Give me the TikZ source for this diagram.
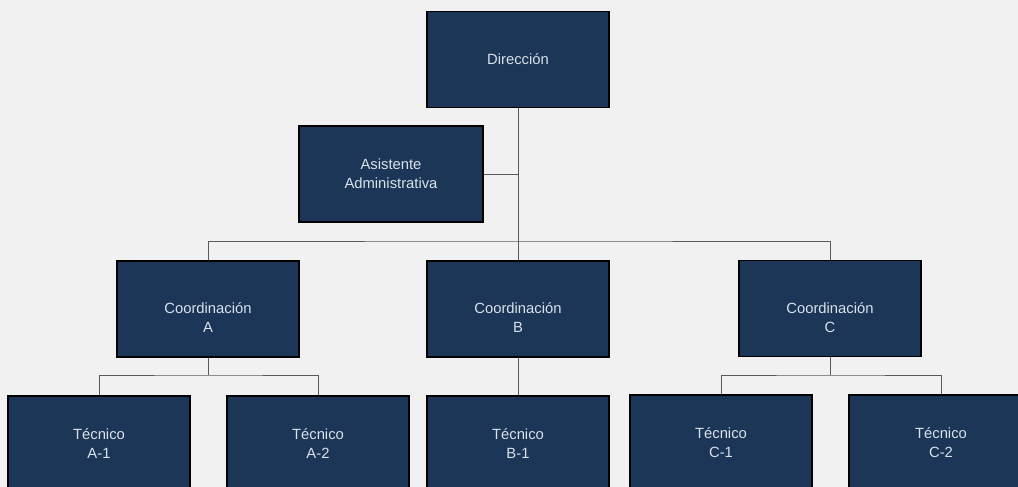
\documentclass[tikz,border=0pt]{standalone}
\usepackage{fontspec}
\setmainfont{Liberation Sans}
\usepackage{tikz}
\usetikzlibrary{positioning}
\definecolor{cajaazul}{HTML}{1C3657}
\definecolor{fondo}{HTML}{F1F1F1}
\definecolor{letra}{HTML}{D9E1EA}
\tikzset{
	rotulo/.style = {text=letra, align=center,
		font=\fontsize{14.8}{19}\selectfont},
	puesto/.style = {shape=rectangle, draw=black, line width=1.3pt,
		fill=cajaazul, rotulo,
		minimum width=182pt, minimum height=96pt},
	coord/.style  = {puesto, label={[rotulo, yshift=-9pt]center:{#1}}},
	enlace/.style = {draw=black!65, line width=1pt}
}
\begin{document}
\begin{tikzpicture}
	[
	x = 1pt,
	y = -1pt
	]
	\fill [fondo] (0,0) rectangle (1018,487);
	\clip (0,0) rectangle (1018,487);
	% niveles
	\node [puesto] (dir)    at (518,59.5) {Dirección};
	\node [puesto, minimum width=184pt] (asis) at (391,174) {Asistente\\Administrativa};
	\node [coord={Coordinación\\A}] (coordA) at (208,309) {};
	\node [coord={Coordinación\\B}] (coordB) at (518,309) {};
	\node [coord={Coordinación\\C}] (coordC) at (830,308.5) {};
	\node [puesto] (tecA1)  at (99,444)  {Técnico\\A-1};
	\node [puesto] (tecA2)  at (318,444) {Técnico\\A-2};
	\node [puesto] (tecB1)  at (518,444) {Técnico\\B-1};
	\node [puesto] (tecC1)  at (721,443) {Técnico\\C-1};
	\node [puesto, minimum width=184pt] (tecC2) at (941,443) {Técnico\\C-2};
	% lineas
	\coordinate (bus)  at (518,241);
	\coordinate (busA) at (208,375);
	\coordinate (busC) at (830,375);
	\draw [enlace] (dir.south) -- (bus);
	\draw [enlace] (asis.east) -- (asis.east -| dir.south);
	\draw [enlace] (coordA.north) |- (bus) -| (coordC.north);
	\draw [enlace] (bus) -- (coordB.north);
	\draw [enlace] (coordA.south) -- (busA);
	\draw [enlace] (tecA1.north) |- (busA) -| (tecA2.north);
	\draw [enlace] (coordB.south) -- (tecB1.north);
	\draw [enlace] (coordC.south) -- (busC);
	\draw [enlace] (tecC1.north) |- (busC) -| (tecC2.north);
\end{tikzpicture}
\end{document}
